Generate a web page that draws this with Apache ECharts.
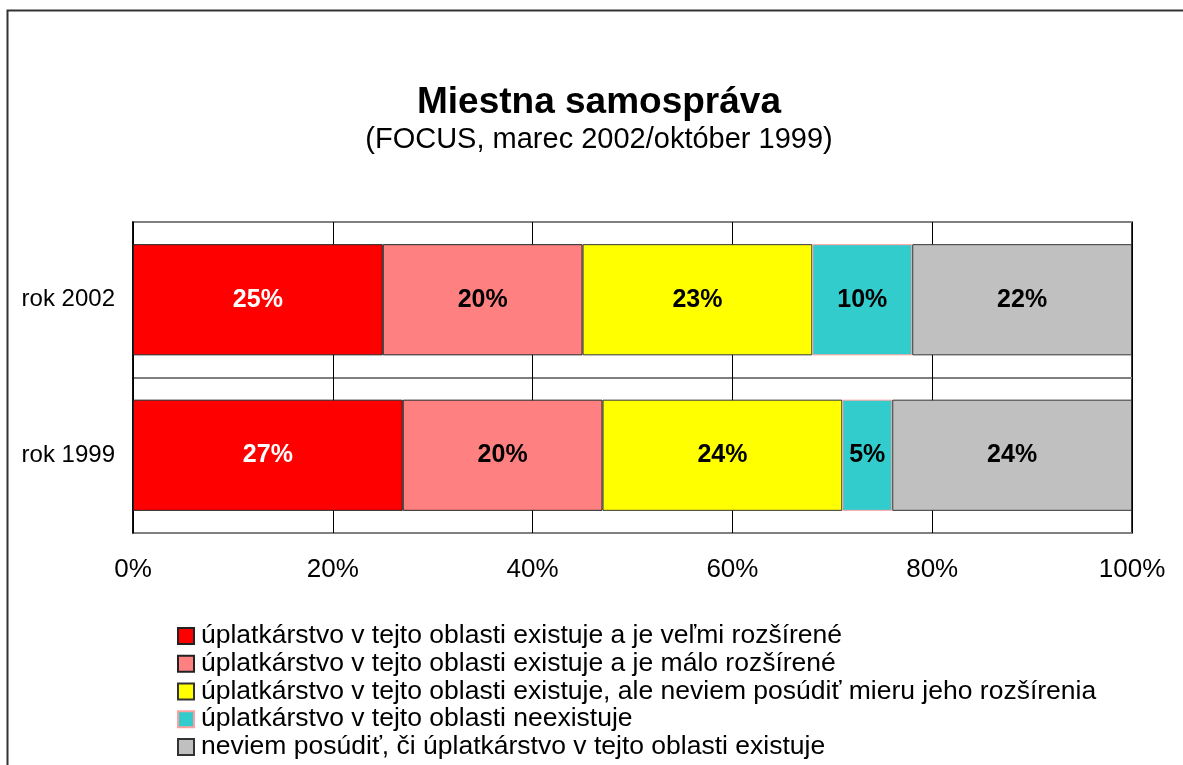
<!DOCTYPE html>
<html>
<head>
<meta charset="utf-8">
<script src="https://cdn.jsdelivr.net/npm/echarts@6/dist/echarts.min.js"></script>
<style>
html,body{margin:0;padding:0;background:#fff;}
#chart{width:1183px;height:765px;}
</style>
</head>
<body>
<div id="chart"></div>
<script>
const categories = ['rok 2002', 'rok 1999'];
const seriesNames = [
  'úplatkárstvo v tejto oblasti existuje a je veľmi rozšírené',
  'úplatkárstvo v tejto oblasti existuje a je málo rozšírené',
  'úplatkárstvo v tejto oblasti existuje, ale neviem posúdiť mieru jeho rozšírenia',
  'úplatkárstvo v tejto oblasti neexistuje',
  'neviem posúdiť, či úplatkárstvo v tejto oblasti existuje'
];
const veryWidespread = [25, 27];
const littleWidespread = [20, 20];
const cannotJudgeExtent = [23, 24];
const doesNotExist = [10, 5];
const cannotJudge = [22, 24];
const xTicks = [0, 20, 40, 60, 80, 100];

const values = [veryWidespread, littleWidespread, cannotJudgeExtent, doesNotExist, cannotJudge];
const colors = ['#FF0000', '#FF8080', '#FFFF00', '#33CCCC', '#C0C0C0'];
const borders = ['#222222', '#222222', '#333333', '#FFA0A0', '#333333'];
const labelColors = ['#FFFFFF', '#000000', '#000000', '#000000', '#000000'];

const FONT = 'Liberation Sans, Arial, sans-serif';

const chart = echarts.init(document.getElementById('chart'), null, {renderer: 'canvas'});
chart.setOption({
  animation: false,
  backgroundColor: '#ffffff',
  graphic: [{
    type: 'rect',
    shape: {x: 7.5, y: 10.5, width: 1200, height: 800},
    style: {fill: 'none', stroke: '#333333', lineWidth: 2},
    z: 100,
    silent: true
  }],
  title: {
    text: 'Miestna samospráva',
    subtext: '(FOCUS, marec 2002/október 1999)',
    left: 599,
    textAlign: 'center',
    top: 84,
    padding: 0,
    itemGap: 4,
    textStyle: {fontFamily: FONT, fontWeight: 'bold', fontSize: 37, color: '#000'},
    subtextStyle: {fontFamily: FONT, fontSize: 29, color: '#000'}
  },
  legend: {
    orient: 'vertical',
    left: 177,
    top: 622,
    padding: 0,
    itemWidth: 16,
    itemHeight: 16,
    itemGap: 0,
    icon: 'rect',
    selectedMode: false,
    textStyle: {fontFamily: FONT, fontSize: 26.5, lineHeight: 27.75, color: '#000', padding: [0, 0, 0, 2]},
    data: seriesNames
  },
  grid: {
    left: 133, right: 51, top: 222, bottom: 232,
    show: true, borderColor: '#000', borderWidth: 1.5,
    containLabel: false
  },
  xAxis: {
    type: 'value',
    min: 0, max: 100, interval: 20,
    axisLine: {show: false},
    axisTick: {show: false},
    splitLine: {show: true, lineStyle: {color: '#000', width: 1}},
    axisLabel: {
      formatter: function (v) { return xTicks.indexOf(v) >= 0 ? v + '%' : ''; },
      fontFamily: FONT, fontSize: 26, color: '#000', margin: 24
    }
  },
  yAxis: {
    type: 'category',
    inverse: true,
    data: categories,
    axisLine: {show: true, lineStyle: {color: '#000', width: 1.5}},
    axisTick: {show: false},
    splitLine: {show: true, lineStyle: {color: '#808080', width: 2}},
    axisLabel: {fontFamily: FONT, fontSize: 24, color: '#000', margin: 18}
  },
  series: seriesNames.map(function (name, i) {
    return {
      name: name,
      type: 'bar',
      stack: 'total',
      barWidth: '71.5%',
      data: values[i],
      itemStyle: {color: colors[i], borderColor: borders[i], borderWidth: 1},
      label: {
        show: true,
        position: 'inside',
        formatter: '{c}%',
        fontFamily: FONT,
        fontWeight: 'bold',
        fontSize: 25,
        color: labelColors[i],
        textBorderWidth: 0
      }
    };
  })
});
</script>
</body>
</html>
